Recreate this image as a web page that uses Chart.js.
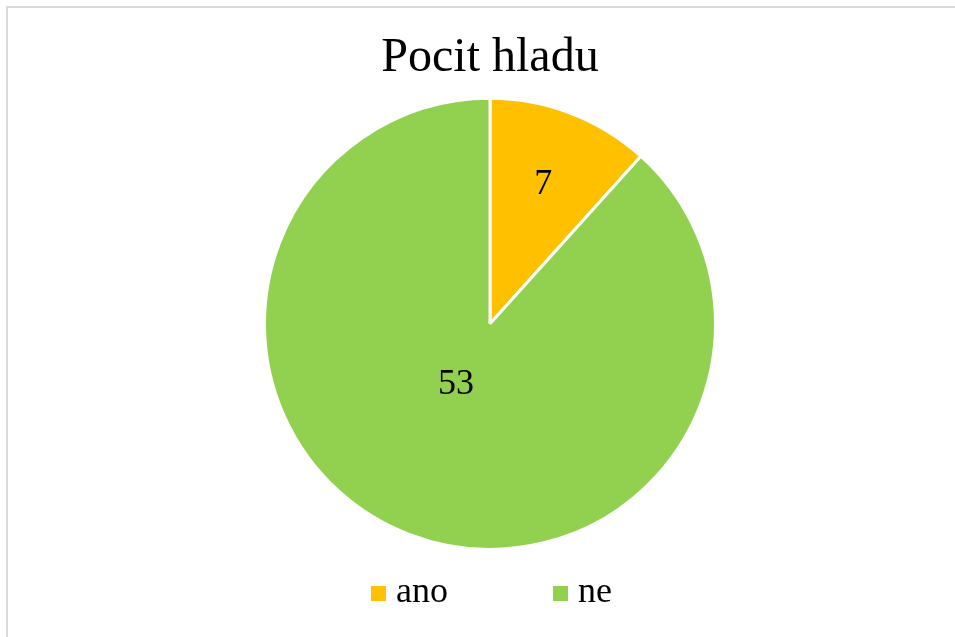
<!DOCTYPE html>
<html>
<head>
<meta charset="utf-8">
<script src="https://cdn.jsdelivr.net/npm/chart.js@4"></script>
<style>
  html, body { margin: 0; padding: 0; background: #fff; }
  #wrap { position: relative; width: 955px; height: 637px; }
  #frame { position: absolute; left: 6px; top: 6px; width: 960px; height: 640px;
           border-left: 2px solid #d9d9d9; border-top: 2px solid #d9d9d9; }
  canvas { position: absolute; left: 0; top: 0; }
</style>
</head>
<body>
<div id="wrap">
  <div id="frame"></div>
  <canvas id="pieChart" width="955" height="637"></canvas>
</div>
<script>
var chartTitle = 'Pocit hladu';
var labels = ['ano', 'ne'];
var values = [7, 53];
var colors = ['#FFC000', '#92D050'];

// value labels inside the slices: radius as a share of the pie radius, small angle nudge
var labelRadius = [0.66, 0.31];
var labelTurn = [0, 0.14];
var valueLabels = {
    id: 'valueLabels',
    afterDatasetsDraw(chart) {
        var ctx = chart.ctx;
        var meta = chart.getDatasetMeta(0);
        ctx.save();
        ctx.font = '36px "Liberation Serif", "Times New Roman", serif';
        ctx.fillStyle = '#000';
        ctx.textAlign = 'center';
        ctx.textBaseline = 'middle';
        meta.data.forEach(function (arc, i) {
            var mid = (arc.startAngle + arc.endAngle) / 2 + labelTurn[i];
            var r = arc.outerRadius * labelRadius[i];
            ctx.fillText(String(chart.data.datasets[0].data[i]), arc.x + Math.cos(mid) * r, arc.y + Math.sin(mid) * r);
        });
        ctx.restore();
    }
};

// bottom legend, small square markers like the original
var bottomLegend = {
    id: 'bottomLegend',
    afterDraw(chart) {
        var ctx = chart.ctx;
        var xs = [371, 553];
        ctx.save();
        ctx.font = '36px "Liberation Serif", "Times New Roman", serif';
        ctx.textBaseline = 'alphabetic';
        chart.data.labels.forEach(function (lab, i) {
            ctx.fillStyle = chart.data.datasets[0].backgroundColor[i];
            ctx.fillRect(xs[i], 586, 15, 15);
            ctx.fillStyle = '#000';
            ctx.fillText(lab, xs[i] + 25, 602);
        });
        ctx.restore();
    }
};

new Chart(document.getElementById('pieChart'), {
    type: 'pie',
    data: {
        labels: labels,
        datasets: [{
            data: values,
            backgroundColor: colors,
            borderColor: '#ffffff',
            borderWidth: 3
        }]
    },
    options: {
        responsive: false,
        animation: false,
        layout: { padding: { left: 263, right: 238, top: 0, bottom: 86 } },
        plugins: {
            legend: { display: false },
            tooltip: { enabled: false },
            title: {
                display: true,
                text: chartTitle,
                color: '#000',
                font: { family: '"Liberation Serif", "Times New Roman", serif', size: 48, weight: 'normal' },
                padding: { top: 30, bottom: 9 }
            }
        }
    },
    plugins: [valueLabels, bottomLegend]
});
</script>
</body>
</html>
